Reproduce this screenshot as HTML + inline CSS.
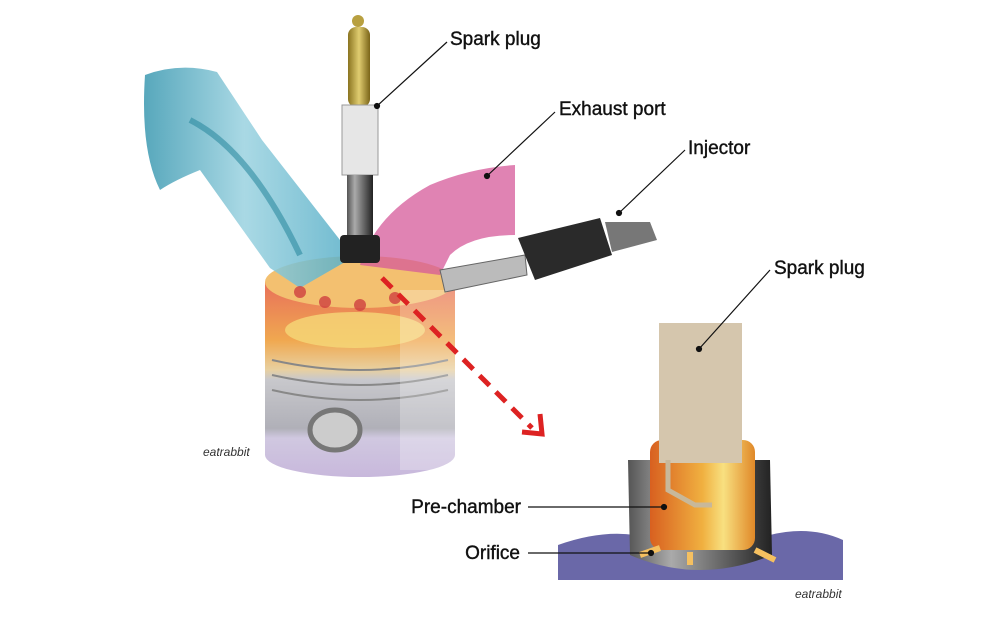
<!DOCTYPE html>
<html><head><style>
body{margin:0;background:#fff;width:1000px;height:623px;overflow:hidden}
svg{display:block}
text{font-family:"Liberation Sans",sans-serif}
</style></head><body>
<svg width="1000" height="623" viewBox="0 0 1000 623">
<defs>
<linearGradient id="cyl" x1="0" y1="0" x2="0" y2="1">
<stop offset="0" stop-color="#e8705a"/><stop offset="0.3" stop-color="#f0a850"/><stop offset="0.45" stop-color="#e8d0a0"/><stop offset="0.5" stop-color="#c8c8cc"/><stop offset="0.75" stop-color="#b0b0b8"/><stop offset="0.8" stop-color="#d0c8e0"/><stop offset="1" stop-color="#c8b8dc"/></linearGradient>
<linearGradient id="gold" x1="0" x2="1"><stop offset="0" stop-color="#8a7420"/><stop offset="0.5" stop-color="#e0cc70"/><stop offset="1" stop-color="#7a6418"/></linearGradient>
<linearGradient id="orng" x1="0" x2="1"><stop offset="0" stop-color="#d86020"/><stop offset="0.5" stop-color="#f0b040"/><stop offset="0.7" stop-color="#f8e080"/><stop offset="1" stop-color="#e08828"/></linearGradient>
<linearGradient id="gry" x1="0" x2="1"><stop offset="0" stop-color="#555"/><stop offset="0.3" stop-color="#aaa"/><stop offset="1" stop-color="#222"/></linearGradient>
<linearGradient id="blu" x1="0" x2="1"><stop offset="0" stop-color="#3a98b0"/><stop offset="0.5" stop-color="#9ad2e0"/><stop offset="1" stop-color="#5ab0c8"/></linearGradient>
</defs>
<!-- cylinder -->
<path d="M265 282 L265 455 A95 22 0 0 0 455 455 L455 282 Z" fill="url(#cyl)"/>
<ellipse cx="360" cy="282" rx="95" ry="26" fill="#f3c070"/>
<ellipse cx="355" cy="330" rx="70" ry="18" fill="#f5d878" opacity="0.8"/>
<g stroke="#888" stroke-width="2" fill="none"><path d="M272 360 Q360 380 448 360"/><path d="M272 375 Q360 395 448 375"/><path d="M272 390 Q360 410 448 390"/></g>
<ellipse cx="335" cy="430" rx="25" ry="20" fill="#ccc" stroke="#777" stroke-width="5"/>
<rect x="400" y="290" width="55" height="180" fill="#fff" opacity="0.25"/>
<!-- intake -->
<path d="M145 75 Q180 62 217 72 L262 140 L340 240 L345 262 L300 288 L270 268 L200 170 Q175 180 160 190 Q140 150 145 75 Z" fill="url(#blu)" opacity="0.85"/>
<path d="M190 120 Q250 150 300 255" stroke="#2d8aa0" stroke-width="6" fill="none" opacity="0.6"/>
<!-- exhaust -->
<path d="M360 265 Q375 215 430 185 Q470 168 515 165 L515 235 Q470 235 450 255 L440 275 Z" fill="#d65a9a" opacity="0.75"/>
<!-- fuel rays -->
<g fill="#d04040" opacity="0.8"><circle cx="300" cy="292" r="6"/><circle cx="325" cy="302" r="6"/><circle cx="360" cy="305" r="6"/><circle cx="395" cy="298" r="6"/></g>
<!-- spark plug -->
<circle cx="358" cy="21" r="6" fill="#b8a040"/>
<rect x="348" y="27" width="22" height="80" rx="8" fill="url(#gold)"/>
<rect x="342" y="105" width="36" height="70" fill="#e6e6e6" stroke="#999"/>
<rect x="347" y="175" width="26" height="62" fill="url(#gry)"/>
<rect x="340" y="235" width="40" height="28" rx="4" fill="#222"/>
<!-- injector -->
<path d="M440 270 L525 255 L527 275 L445 292 Z" fill="#bbb" stroke="#666"/>
<path d="M518 238 L600 218 L612 255 L535 280 Z" fill="#2a2a2a"/>
<path d="M605 222 L650 222 L657 240 L612 252 Z" fill="#777"/>
<!-- arrow -->
<line x1="382" y1="278" x2="532" y2="428" stroke="#d22" stroke-width="5" stroke-dasharray="14 9"/>
<path d="M522 432 L542 434 L540 414" stroke="#d22" stroke-width="5" fill="none"/>
<text x="203" y="456" font-size="12" font-style="italic" fill="#333">eatrabbit</text>
<!-- detail -->
<path d="M558 545 Q600 530 635 535 L770 535 Q810 525 843 540 L843 580 L558 580 Z" fill="#6a68a8"/>
<path d="M628 460 L770 460 L772 555 Q700 585 630 555 Z" fill="url(#gry)"/>
<rect x="650" y="440" width="105" height="110" rx="12" fill="url(#orng)"/>
<rect x="659" y="323" width="83" height="140" fill="#d5c6ad"/>
<path d="M668 460 L668 490 L695 505 L712 505" stroke="#c8b89a" stroke-width="5" fill="none"/>
<path d="M640 555 L660 548 M690 552 L690 565 M755 550 L775 560" stroke="#f5c060" stroke-width="6"/>
<text x="795" y="598" font-size="12" font-style="italic" fill="#333">eatrabbit</text>
<!-- leaders -->
<g stroke="#111" stroke-width="1.2" fill="#111">
<line x1="447" y1="42" x2="377" y2="106"/><circle cx="377" cy="106" r="2.5"/>
<line x1="555" y1="112" x2="487" y2="176"/><circle cx="487" cy="176" r="2.5"/>
<line x1="685" y1="150" x2="619" y2="213"/><circle cx="619" cy="213" r="2.5"/>
<line x1="770" y1="270" x2="699" y2="349"/><circle cx="699" cy="349" r="2.5"/>
<line x1="528" y1="507" x2="664" y2="507"/><circle cx="664" cy="507" r="2.5"/>
<line x1="528" y1="553" x2="651" y2="553"/><circle cx="651" cy="553" r="2.5"/>
</g>
<g font-size="19" fill="#111" stroke="#111" stroke-width="0.4">
<text x="450" y="45">Spark plug</text>
<text x="559" y="115">Exhaust port</text>
<text x="688" y="154">Injector</text>
<text x="774" y="274">Spark plug</text>
<text x="521" y="513" text-anchor="end">Pre-chamber</text>
<text x="520" y="559" text-anchor="end">Orifice</text>
</g>
</svg>
</body></html>
